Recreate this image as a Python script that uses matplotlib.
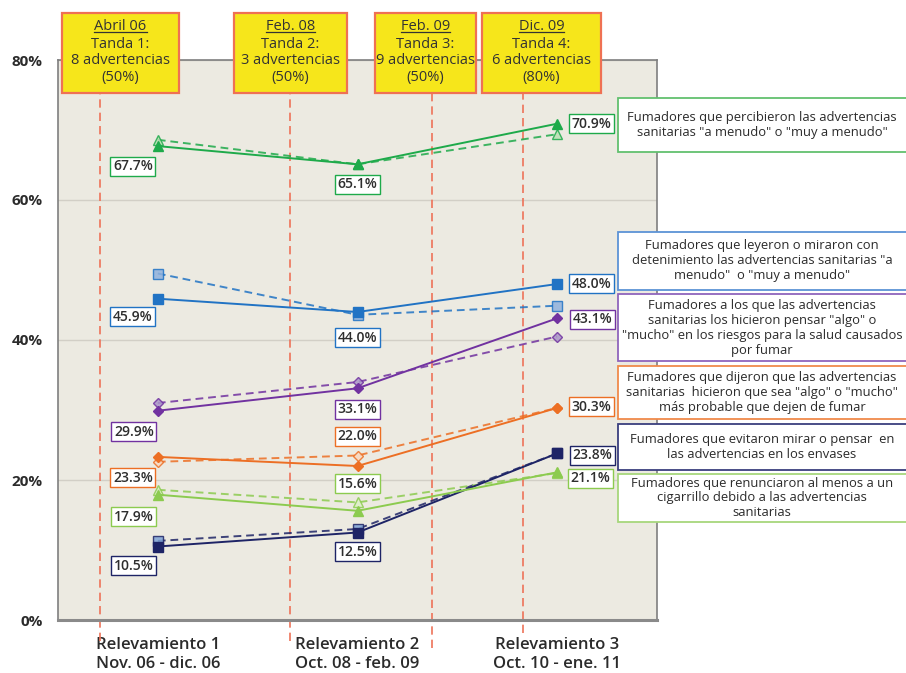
import matplotlib
matplotlib.use("Agg")
import matplotlib.pyplot as plt
from matplotlib.patches import Rectangle
from matplotlib.lines import Line2D

# ---- data -------------------------------------------------------------
surveys = ["Relevamiento 1\nNov. 06 - dic. 06",
           "Relevamiento 2\nOct. 08 - feb. 09",
           "Relevamiento 3\nOct. 10 - ene. 11"]

percibieron = [67.7, 65.1, 70.9]
percibieron_b = [68.6, 65.1, 69.4]
leyeron = [45.9, 44.0, 48.0]
leyeron_b = [49.5, 43.6, 44.9]
pensar = [29.9, 33.1, 43.1]
pensar_b = [31.0, 34.0, 40.5]
dejar = [23.3, 22.0, 30.3]
dejar_b = [22.6, 23.5, 30.3]
renunciaron = [17.9, 15.6, 21.1]
renunciaron_b = [18.6, 16.8, 21.0]
evitaron = [10.5, 12.5, 23.8]
evitaron_b = [11.3, 13.0, 23.8]

series_names = [
    "Fumadores que percibieron las advertencias\nsanitarias \"a menudo\" o \"muy a menudo\"",
    "Fumadores que leyeron o miraron con\ndetenimiento las advertencias sanitarias \"a\nmenudo\"  o \"muy a menudo\"",
    "Fumadores a los que las advertencias\nsanitarias los hicieron pensar \"algo\" o\n\"mucho\" en los riesgos para la salud causados\npor fumar",
    "Fumadores que dijeron que las advertencias\nsanitarias  hicieron que sea \"algo\" o \"mucho\"\nmás probable que dejen de fumar",
    "Fumadores que evitaron mirar o pensar  en\nlas advertencias en los envases",
    "Fumadores que renunciaron al menos a un\ncigarrillo debido a las advertencias\nsanitarias",
]

# warning-label rollout periods (position on the survey axis)
tanda_dates = ["Abril 06", "Feb. 08", "Feb. 09", "Dic. 09"]
tanda_text = ["Tanda 1:\n8 advertencias\n(50%)",
              "Tanda 2:\n3 advertencias\n(50%)",
              "Tanda 3:\n9 advertencias\n(50%)",
              "Tanda 4:\n6 advertencias\n(80%)"]
tanda_pos = [-0.29, 0.66, 1.375, 1.83]

yticks = [0, 20, 40, 60, 80]

# ---- styling ------------------------------------------------------------
plt.rcParams['font.family'] = ['Open Sans', 'DejaVu Sans']
W, H = 906, 673
fig = plt.figure(figsize=(W / 100, H / 100), dpi=100)
fig.patch.set_facecolor("white")


def fx(px):
    return px / W


def fy(py):
    return 1 - py / H


ax = fig.add_axes([fx(58), fy(620), fx(657) - fx(58), fy(60) - fy(620)])
ax.set_facecolor("#ECEAE1")
ax.set_xlim(-0.5, 2.5)
ax.set_ylim(0, 80)
ax.set_yticks(yticks)
ax.set_yticklabels([f"{v}%" for v in yticks], fontsize=11,
                   fontweight="bold", color="#2b2b2b")
ax.set_xticks(range(len(surveys)))
ax.set_xticklabels(surveys, fontsize=12, fontweight="semibold",
                   color="#2b2b2b", linespacing=1.3)
ax.tick_params(length=0, pad=12)
ax.tick_params(axis="y", pad=11)
ax.yaxis.grid(True, color="#D2CFC6", linewidth=1)
ax.set_axisbelow(True)
for side in ["left", "top", "right"]:
    ax.spines[side].set_color("#7f7f7f")
    ax.spines[side].set_linewidth(1.2)
ax.spines["bottom"].set_color("#8a8a8a")
ax.spines["bottom"].set_linewidth(2.2)

x = list(range(len(surveys)))

# (solid, dashed, colour, light colour, marker, solid label offsets)
spec = [
    (percibieron, percibieron_b, "#1EAA4A", "#B9E0B2", "^",
     [(-25, -20), (0, -20), (34, 0)]),
    (leyeron, leyeron_b, "#2173C4", "#8FB1DD", "s",
     [(-25, -18), (0, -26), (34, 0)]),
    (pensar, pensar_b, "#7132A0", "#A995C8", "D",
     [(-24, -21), (0, -21), (35, -1)]),
    (dejar, dejar_b, "#EC6F24", "#F9D8BE", "D",
     [(-25, -21), (0, 30), (34, 1)]),
    (evitaron, evitaron_b, "#1E2466", "#7FA3D6", "s",
     [(-24, -19), (0, -19), (35, -2)]),
    (renunciaron, renunciaron_b, "#8CCB4F", "#DDEFC8", "^",
     [(-24, -22), (0, 27), (33, -6)]),
]

for solid, dashed, col, light, mk, offs in spec:
    msize = 6.5 if mk != "D" else 5.5
    ax.plot(x, dashed, color=col, lw=1.4, ls=(0, (4, 2.5)), marker=mk,
            ms=msize, mfc=light, mec=col, mew=1.0, alpha=0.85, zorder=3)
    ax.plot(x, solid, color=col, lw=1.4, marker=mk, ms=msize,
            mfc=col, mec=col, zorder=4)
    for xi, v, off in zip(x, solid, offs):
        ax.annotate(f"{v:.1f}%", (xi, v), xytext=off,
                    textcoords="offset pixels", ha="center", va="center",
                    fontsize=10, fontweight="semibold", color="#2e2e2e",
                    bbox=dict(boxstyle="square,pad=0.18", fc="white",
                              ec=col, lw=1.0),
                    zorder=6)

# vertical dashed markers for each rollout
ends = [-3.0, -3.0, -4.0, -1.8]
for p, e in zip(tanda_pos, ends):
    ax.plot([p, p], [e, 75.3], color="#EE7359", lw=1.2, ls=(0, (5, 3)),
            clip_on=False, zorder=2)

# rollout boxes on top, one text line at a time
box_px = [(62, 179), (234, 347), (375, 476), (482, 601)]
line_y = [27, 44, 61, 78]
underlined = []
for (x0, x1), d, t in zip(box_px, tanda_dates, tanda_text):
    fig.patches.append(Rectangle((fx(x0), fy(93)), fx(x1) - fx(x0),
                                 fy(13) - fy(93), transform=fig.transFigure,
                                 fc="#F6E61B", ec="#EF7153", lw=1.6,
                                 zorder=5))
    cx = fx((x0 + x1) / 2)
    lines = [d] + t.split("\n")
    for k, (txt, yy) in enumerate(zip(lines, line_y)):
        tt = fig.text(cx, fy(yy), txt, ha="center", va="center",
                      fontsize=10.5, color="#333333", zorder=6)
        if k == 0:
            underlined.append(tt)

fig.canvas.draw()
rend = fig.canvas.get_renderer()
for t in underlined:
    bb = t.get_window_extent(rend)
    yline = bb.y0 + 2.5
    fig.lines.append(Line2D([bb.x0 / W, bb.x1 / W],
                            [yline / H, yline / H],
                            transform=fig.transFigure,
                            color="#333333", lw=0.9, zorder=6))

# series description boxes on the right
legend_boxes = [(98, 152), (232, 290), (294, 361), (366, 419),
                (424, 470), (474, 522)]
legend_cols = ["#62C06E", "#5C93D6", "#8F64BC", "#F08A4B", "#3A3F7E",
               "#A7D77C"]
for (y0, y1), col, name in zip(legend_boxes, legend_cols, series_names):
    fig.patches.append(Rectangle((fx(618), fy(y1)), fx(300), fy(y0) - fy(y1),
                                 transform=fig.transFigure, fc="white",
                                 ec=col, lw=1.3, zorder=5))
    fig.text(fx(762), fy((y0 + y1) / 2), name, ha="center",
             va="center", fontsize=9.4, color="#2b2b2b", linespacing=1.2,
             zorder=6)

fig.savefig("out.png", dpi=100)
